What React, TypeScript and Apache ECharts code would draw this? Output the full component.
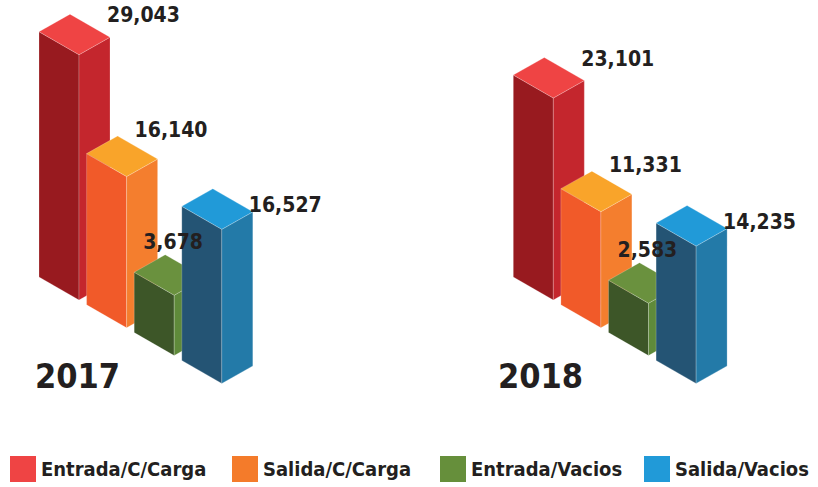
import React, { useEffect, useRef } from "react";
import * as echarts from "echarts";

const categories = ["2017", "2018"];
const seriesNames = ["Entrada/C/Carga", "Salida/C/Carga", "Entrada/Vacios", "Salida/Vacios"];
const entradaCarga = [29043, 23101];
const salidaCarga = [16140, 11331];
const entradaVacios = [3678, 2583];
const salidaVacios = [16527, 14235];
const seriesValues = [entradaCarga, salidaCarga, entradaVacios, salidaVacios];

// styles
const FONT = "'DejaVu Sans Condensed', 'DejaVu Sans', sans-serif";
const TEXT_COLOR = "#231F20";
const legendColors = ["#EF4444", "#F47B2A", "#668F3B", "#219AD8"];
const legendLeft = [10, 232, 440, 644];
const faceColors = [
  { top: "#EF4444", left: "#981A1F", right: "#C4262D" },
  { top: "#F9A42A", left: "#F15A29", right: "#F47E2E" },
  { top: "#6A913E", left: "#3D5628", right: "#5F8A3A" },
  { top: "#219AD8", left: "#245474", right: "#237AA8" },
];
const labelOffsets = [
  [-3, -22],
  [-23, -29],
  [-62, -36],
  [-4, -7],
];
const Y_MIN = -4600;
const Y_MAX = 36000;
const STEP_X = 47.6;
const STEP_Y = 27.8;
const A = [40, 23];
const B = [31, -17.5];
const yearLeft = [35, 498];

export default function App() {
  const ref = useRef<HTMLDivElement>(null);
  useEffect(() => {
    document.body.style.margin = "0";
    const chart = echarts.init(ref.current!, null, { renderer: "svg" });
    const renderItem = (params: any, api: any) => {
      const cat = api.value(0);
      const val = api.value(1);
      const base = api.coord([cat, Y_MIN]);
      const top = api.coord([cat, val]);
      const h = base[1] - top[1];
      const i = params.seriesIndex;
      const fx = base[0] + i * STEP_X;
      const fy = base[1] + i * STEP_Y;
      const ty = fy - h;
      const c = faceColors[i];
      const edge = { stroke: "rgba(255,255,255,0.35)", lineWidth: 0.6 };
      const off = labelOffsets[i];
      return {
        type: "group",
        children: [
          {
            type: "polygon",
            shape: { points: [[fx - A[0], fy - A[1]], [fx, fy], [fx, ty], [fx - A[0], ty - A[1]]] },
            style: { fill: c.left, ...edge },
          },
          {
            type: "polygon",
            shape: { points: [[fx, fy], [fx + B[0], fy + B[1]], [fx + B[0], ty + B[1]], [fx, ty]] },
            style: { fill: c.right, ...edge },
          },
          {
            type: "polygon",
            shape: {
              points: [
                [fx, ty],
                [fx + B[0], ty + B[1]],
                [fx - A[0] + B[0], ty - A[1] + B[1]],
                [fx - A[0], ty - A[1]],
              ],
            },
            style: { fill: c.top, ...edge },
          },
          {
            type: "text",
            z2: 100,
            style: {
              x: fx + B[0] + off[0],
              y: ty + B[1] + off[1],
              text: val.toLocaleString("en-US"),
              fill: TEXT_COLOR,
              font: `bold 21px ${FONT}`,
              align: "left",
              verticalAlign: "middle",
            },
          },
        ],
      };
    };
    chart.setOption({
      animation: false,
      grid: { left: 79, right: 264.7, top: 4, bottom: 187 },
      xAxis: { type: "category", data: categories, boundaryGap: false, show: false },
      yAxis: { type: "value", min: Y_MIN, max: Y_MAX, show: false },
      legend: seriesNames.map((name, i) => ({
        data: [name],
        left: legendLeft[i],
        top: 456,
        padding: 0,
        icon: "rect",
        itemWidth: 26,
        itemHeight: 26,
        textStyle: {
          fontFamily: FONT,
          fontWeight: "bold",
          fontSize: 20,
          color: TEXT_COLOR,
          padding: [0, 0, 0, 0],
        },
      })),
      graphic: categories.map((y, k) => ({
        type: "text",
        left: yearLeft[k],
        top: 359,
        style: { text: y, font: `bold 34px ${FONT}`, fill: TEXT_COLOR },
      })),
      series: seriesNames.map((name, i) => ({
        type: "custom",
        name,
        itemStyle: { color: legendColors[i] },
        renderItem,
        data: categories.map((_, k) => [k, seriesValues[i][k]]),
      })),
    });
    return () => chart.dispose();
  }, []);
  return <div ref={ref} style={{ width: 818, height: 487 }} />;
}
